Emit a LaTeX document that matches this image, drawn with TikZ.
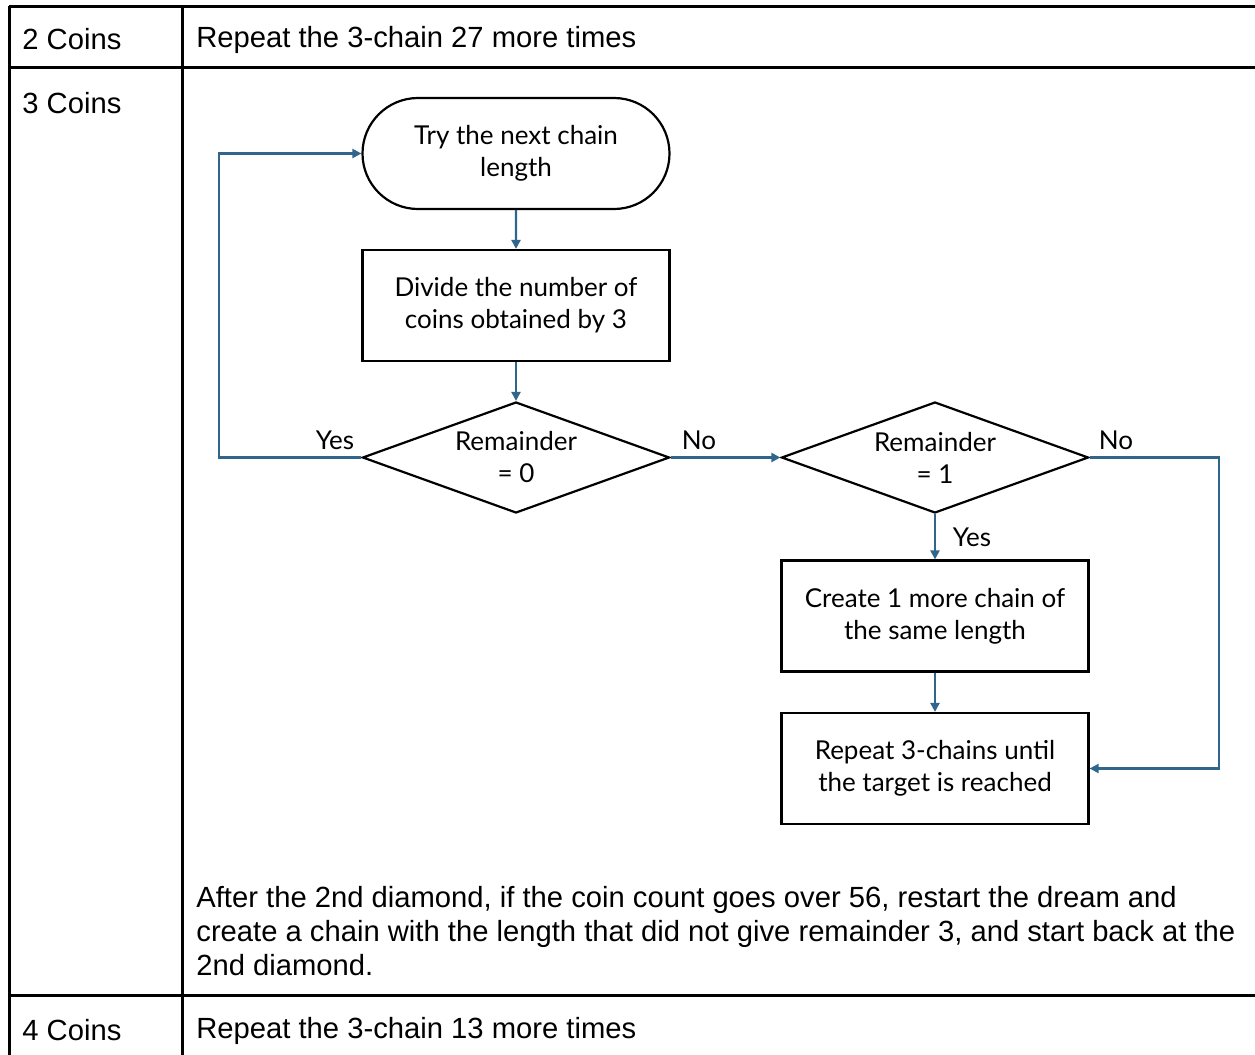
\documentclass[tikz,border=0pt]{standalone}
\usepackage{fontspec}
\setmainfont{Liberation Sans}
\newfontfamily\flowfont{Lato}
\usetikzlibrary{shapes.geometric,shapes.misc,arrows.meta}
\definecolor{flowblue}{HTML}{31668C}
\tikzset{
    grid/.style={line width=1.5pt,black},
    cell/.style={anchor=west,inner sep=0pt,font=\fontsize{14.6}{17}\selectfont},
    block/.style={
        draw,
        line width=1.1pt,
        minimum width=153.5pt,
        minimum height=55.5pt,
        inner sep=0pt,
        align=center,
        font=\flowfont\fontsize{13}{16}\selectfont
    },
    stadium/.style={block,rounded rectangle},
    choice/.style={block,diamond,aspect=2.77},
    link/.style={draw=flowblue,line width=1.1pt,-{Triangle[length=4.5pt,width=4.5pt]}},
    tag/.style={inner sep=0pt,font=\flowfont\fontsize{13}{14}\selectfont}
}
\begin{document}
\begin{tikzpicture}[x=0.5pt,y=-0.5pt]
    \useasboundingbox (0,0) rectangle (1255,1055);
    \draw[grid] (9,6) -- (1255,6);
    \draw[grid] (9,67) -- (1255,67);
    \draw[grid] (9,995) -- (1255,995);
    \draw[grid] (9,6) -- (9,1055);
    \draw[grid] (182,6) -- (182,1055);

    \node[cell] (c2) at (22,39) {2 Coins};
    \node[cell] (r2) at (196,40) {Repeat the 3-chain 27 more times};
    \node[cell] (c3) at (22,103) {3 Coins};
    \node[cell] (c4) at (22,1030) {4 Coins};
    \node[cell] (r4) at (196,1031) {Repeat the 3-chain 13 more times};
    \node[cell,anchor=north west,align=left] (note) at (196,886)
        {After the 2nd diamond, if the coin count goes over 56, restart the dream and\\
         create a chain with the length that did not give remainder 3, and start back at the\\
         2nd diamond.};

    \node[stadium] (try) at (516,153.5) {Try the next chain\\length};
    \node[block] (divide) at (516,305.5) {Divide the number of\\coins obtained by 3};
    \node[choice] (rem0) at (516,457.5) {Remainder\\= 0};
    \node[choice] (rem1) at (935,457.5) {Remainder\\= 1};
    \node[block] (more) at (935,616) {Create 1 more chain of\\the same length};
    \node[block] (repeat) at (935,768.5) {Repeat 3-chains until\\the target is reached};
    \coordinate (backtop) at (219,153.5);
    \coordinate (backbot) at (219,457.5);
    \coordinate (sidetop) at (1219,457.5);
    \coordinate (sidebot) at (1219,768.5);

    \draw[link] (try) -- (divide);
    \draw[link] (divide) -- (rem0);
    \draw[link] (rem0.west) -- (backbot) -- (backtop) -- (try.west);
    \draw[link] (rem0.east) -- (rem1.west);
    \draw[link] (rem1.south) -- (more.north);
    \draw[link] (more) -- (repeat);
    \draw[link] (rem1.east) -- (sidetop) -- (sidebot) -- (repeat.east);

    \node[tag] (yes0) at (335,440) {Yes};
    \node[tag] (no0) at (699,440) {No};
    \node[tag] (yes1) at (972,537) {Yes};
    \node[tag] (no1) at (1116,440) {No};
\end{tikzpicture}
\end{document}
